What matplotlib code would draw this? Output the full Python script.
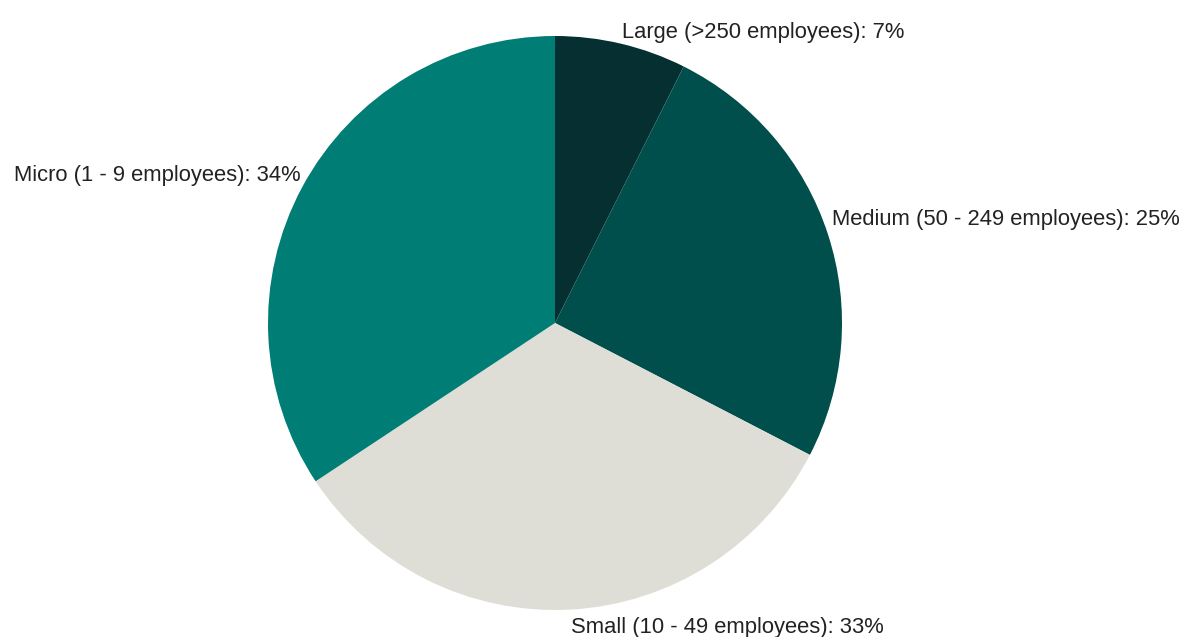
import matplotlib
matplotlib.use("Agg")
import matplotlib.pyplot as plt

categories = ["Large (>250 employees)", "Medium (50 - 249 employees)",
              "Small (10 - 49 employees)", "Micro (1 - 9 employees)"]
shares = [7.4, 25.2, 33.1, 34.3]
pct_labels = ["7%", "25%", "33%", "34%"]
colors = ["#062f31", "#004f4c", "#dfded6", "#007d74"]

plt.rcParams['font.family'] = ['Liberation Sans', 'DejaVu Sans']

fig = plt.figure(figsize=(11.82, 6.37), dpi=100)
ax = fig.add_axes([0, 0, 1, 1])
labels = [f"{c}: {p}" for c, p in zip(categories, pct_labels)]
wedges, texts = ax.pie(shares, labels=labels, colors=colors, startangle=90,
                       counterclock=False, labeldistance=1.03,
                       textprops=dict(fontsize=15.85, color="#222222"))
R = 287.0
cx, cy = 555.0, 637 - 323.0
ax.set_aspect('auto')
ax.set_xlim(-cx / R, (1182 - cx) / R)
ax.set_ylim(-cy / R, (637 - cy) / R)

# label nudges in pixels (dx right, dy up)
nudges = [(-1, 3), (-4, 12), (0, -9), (6, 8)]
for t, (dx, dy) in zip(texts, nudges):
    x, y = t.get_position()
    t.set_position((x + dx / R, y + dy / R))

ax.axis('off')
fig.savefig("out.png", dpi=100, facecolor="white")
